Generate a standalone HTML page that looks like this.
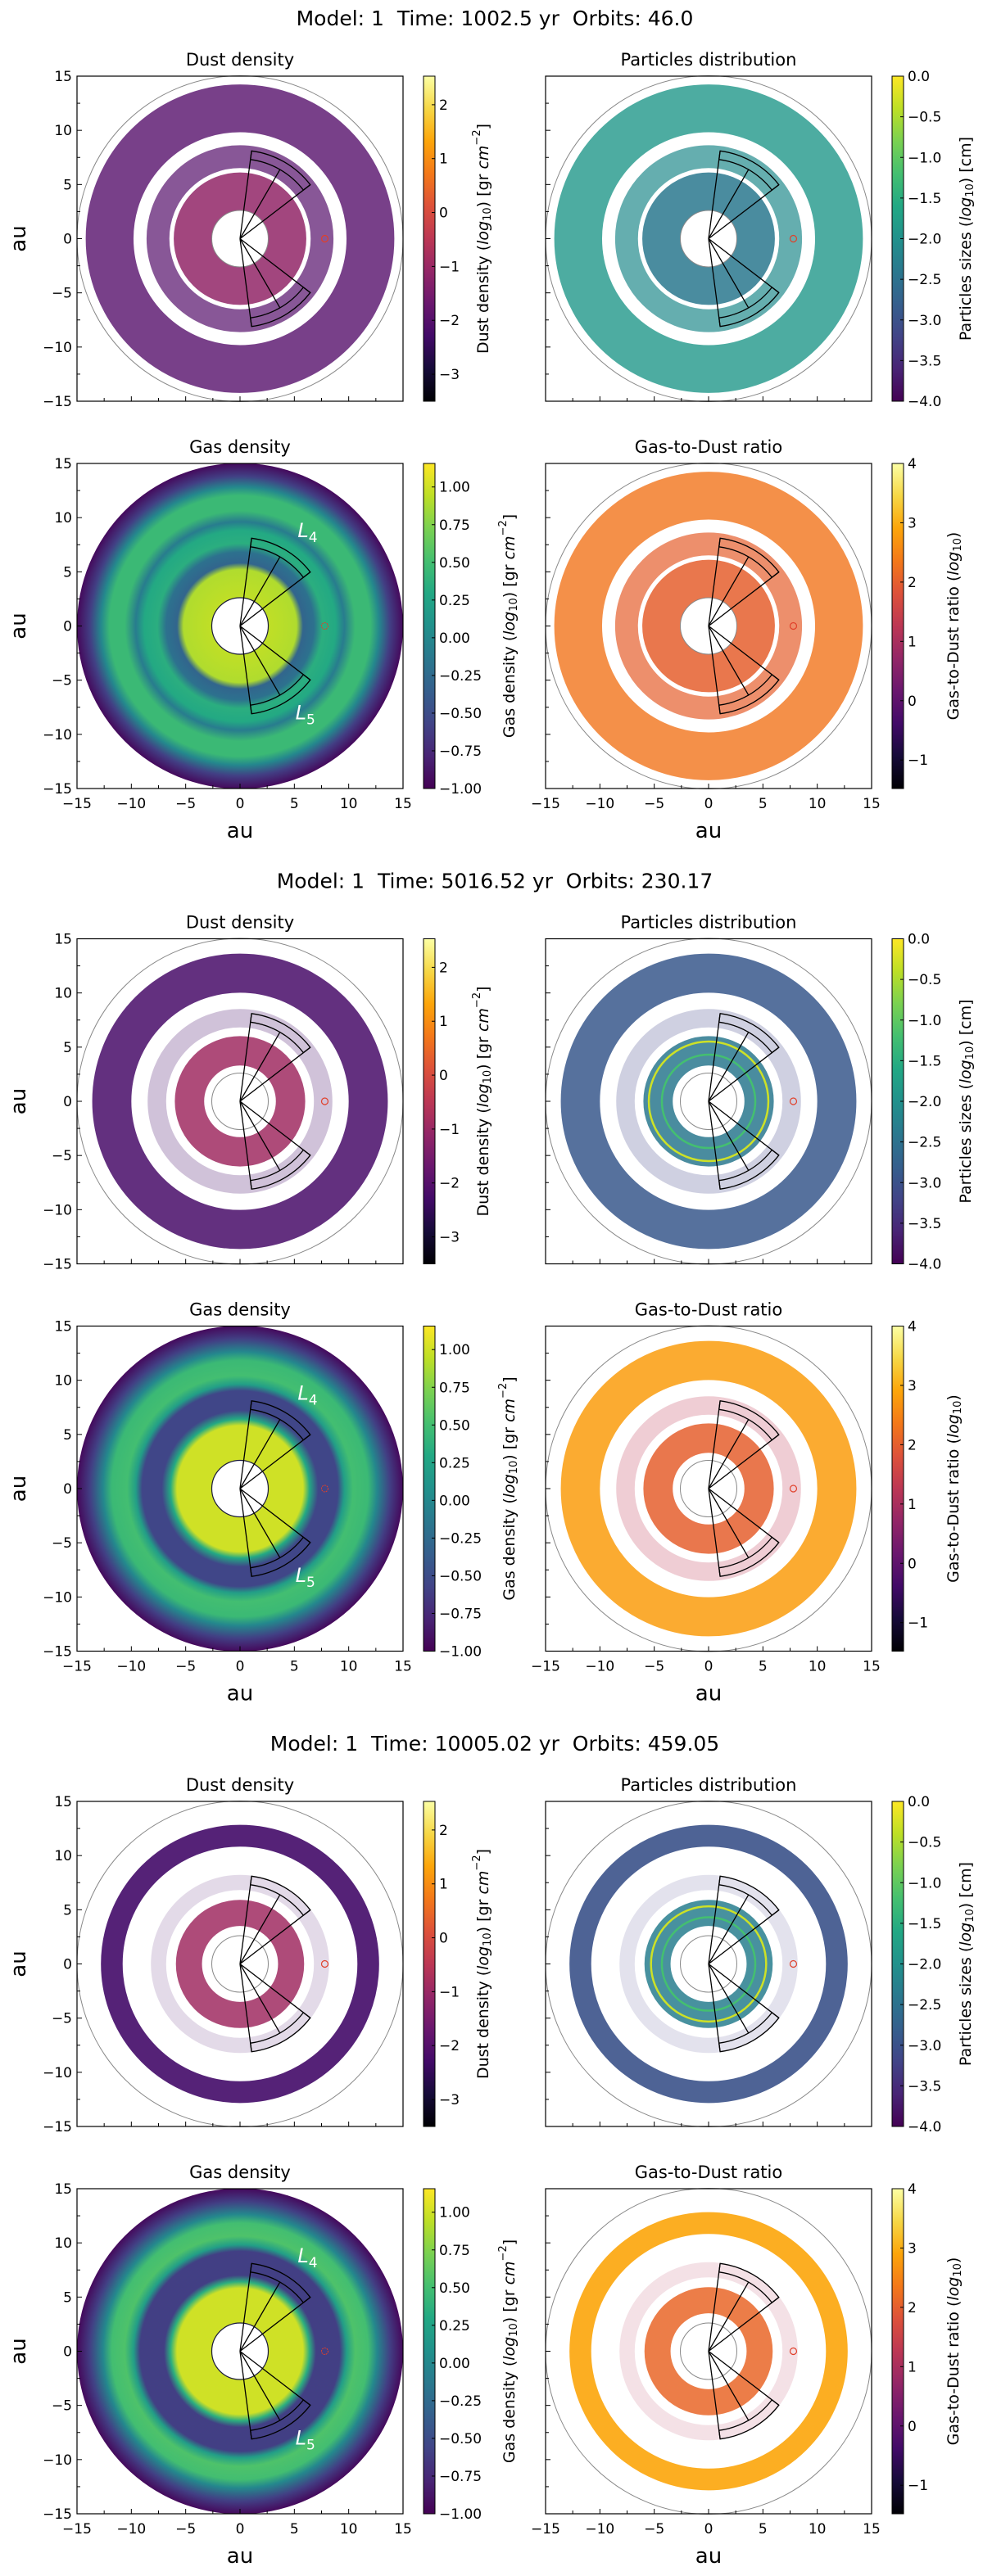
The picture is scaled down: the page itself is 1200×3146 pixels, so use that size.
<!DOCTYPE html>
<html><head><meta charset="utf-8"><title>Dust and gas disk evolution</title>
<style>
html,body{margin:0;padding:0;background:#fff;}
svg{display:block;font-family:"DejaVu Sans","Liberation Sans",sans-serif;}
</style></head>
<body>
<svg id="fig" width="1200" height="3146" viewBox="0 0 1200 3146" xmlns="http://www.w3.org/2000/svg"><defs id="defs"></defs></svg>
<script>
// ---------- data ----------
const blockTitles = ['Model: 1  Time: 1002.5 yr  Orbits: 46.0', 'Model: 1  Time: 5016.52 yr  Orbits: 230.17', 'Model: 1  Time: 10005.02 yr  Orbits: 459.05'];
// particle rings (inner, middle, outer) in au
const ringInner = [[2.6, 6.5, 9.8], [3.3, 6.8, 10.0], [3.5, 6.8, 10.8]];
const ringOuter = [[6.1, 8.6, 14.2], [6.0, 8.5, 13.6], [5.9, 8.2, 12.8]];
const ringFill = [[0.85, 0.7, 0.8], [0.85, 0.25, 0.85], [0.85, 0.15, 0.9]];
const dustVal = [[-1.1, -2.0, -2.0], [-0.9, -2.3, -2.2], [-0.9, -2.3, -2.3]];
const partVal = [[-2.4, -2.1, -1.9], [-2.4, -3.2, -2.9], [-2.3, -3.3, -3.0]];
const gtdVal = [[2.0, 2.0, 2.3], [2.0, 1.3, 2.8], [2.1, 1.2, 2.9]];
const partLineR = [[], [5.5, 4.3], [5.3, 4.3]];
const partLineVal = [[], [-0.3, -1.2], [-0.3, -1.2]];
// gas density radial profile
const gasR = [[2.6, 5.2, 5.8, 6.8, 7.6, 8.8, 9.6, 10.6, 12.0, 12.8, 13.8, 15],
              [2.6, 5.8, 6.4, 7.2, 9.0, 9.6, 10.4, 11.8, 12.6, 13.8, 15],
              [2.6, 5.8, 6.4, 7.0, 9.2, 9.8, 10.6, 11.8, 12.6, 13.8, 15]];
const gasV = [[0.95, 0.9, -0.3, -0.2, 0.35, 0.3, -0.1, 0.45, 0.45, 0.0, -0.6, -0.95],
              [1.0, 1.0, 0.3, -0.55, -0.55, 0.2, 0.5, 0.45, 0.0, -0.6, -0.95],
              [1.0, 1.0, 0.35, -0.6, -0.6, 0.2, 0.55, 0.5, 0.0, -0.6, -0.95]];
const holeR = 2.6;
const planetX = 7.8;
const axisTicks = [-15, -10, -5, 0, 5, 10, 15];
const axisTickLabels = ['−15', '−10', '−5', '0', '5', '10', '15'];
const cbDustTicks = [2, 1, 0, -1, -2, -3];
const cbDustLabels = ['2', '1', '0', '−1', '−2', '−3'];
const cbDustRange = [-3.5, 2.53];
const cbPartTicks = [0, -0.5, -1, -1.5, -2, -2.5, -3, -3.5, -4];
const cbPartLabels = ['0.0', '−0.5', '−1.0', '−1.5', '−2.0', '−2.5', '−3.0', '−3.5', '−4.0'];
const cbPartRange = [-4, 0];
const cbGasTicks = [1, 0.75, 0.5, 0.25, 0, -0.25, -0.5, -0.75, -1];
const cbGasLabels = ['1.00', '0.75', '0.50', '0.25', '0.00', '−0.25', '−0.50', '−0.75', '−1.00'];
const cbGasRange = [-1, 1.156];
const cbGtdTicks = [4, 3, 2, 1, 0, -1];
const cbGtdLabels = ['4', '3', '2', '1', '0', '−1'];
const cbGtdRange = [-1.48, 4];

// ---------- colormaps ----------
const inferno = ['#000004','#160b39','#420a68','#6a176e','#932667','#bc3754','#dd513a','#f37819','#fca50a','#f6d746','#fcffa4'];
const viridis = ['#440154','#482475','#414487','#355f8d','#2a788e','#21918c','#22a884','#44bf70','#7ad151','#bddf26','#fde725'];
function hex2rgb(h){return [parseInt(h.substr(1,2),16),parseInt(h.substr(3,2),16),parseInt(h.substr(5,2),16)];}
function cmap(stops, t){
  t = Math.max(0, Math.min(1, t));
  const p = t * (stops.length - 1), i = Math.min(Math.floor(p), stops.length - 2), f = p - i;
  const a = hex2rgb(stops[i]), b = hex2rgb(stops[i+1]);
  return 'rgb(' + a.map((v,k)=>Math.round(v + (b[k]-v)*f)).join(',') + ')';
}
function colorOf(stops, range, v){ return cmap(stops, (v - range[0]) / (range[1] - range[0])); }

// ---------- helpers ----------
const NS = 'http://www.w3.org/2000/svg';
const svg = document.getElementById('fig');
const defs = document.getElementById('defs');
function mk(tag, attrs, parent){
  const e = document.createElementNS(NS, tag);
  for (const k in attrs) e.setAttribute(k, attrs[k]);
  (parent || svg).appendChild(e);
  return e;
}
let gid = 0;

function makeAxes(g, box){
  return {
    x: v => box.x + (v + 15) / 30 * box.w,
    y: v => box.y + (15 - v) / 30 * box.h,
    r: v => v / 30 * box.w
  };
}

function drawFrame(g, box, showXLabels, showYLabels){
  const ax = makeAxes(g, box);
  const frame = mk('rect', {x: box.x, y: box.y, width: box.w, height: box.h, fill: 'none', stroke: '#000', 'stroke-width': 1.2}, g);
  
  
  for (let v = -15; v <= 15; v += 2.5) {
    const major = (v % 5 === 0);
    const L = major ? 6 : 4;
    const tx = mk('line', {x1: ax.x(v), x2: ax.x(v), y1: box.y + box.h, y2: box.y + box.h - L, stroke: '#000', 'stroke-width': 1}, g);
    
    
    const ty = mk('line', {x1: box.x, x2: box.x + L, y1: ax.y(v), y2: ax.y(v), stroke: '#000', 'stroke-width': 1}, g);
    
    
  }
  axisTicks.forEach((v, i) => {
    if (showXLabels) {
      const t = mk('text', {x: ax.x(v), y: box.y + box.h + 24, 'text-anchor': 'middle', 'font-size': 17, fill: '#000'}, g);
      t.textContent = axisTickLabels[i];
      
      
    }
    if (showYLabels) {
      const t = mk('text', {x: box.x - 6, y: ax.y(v) + 6, 'text-anchor': 'end', 'font-size': 17, fill: '#000'}, g);
      t.textContent = axisTickLabels[i];
      
      
    }
  });
  if (showXLabels) {
    const t = mk('text', {x: box.x + box.w / 2, y: box.y + box.h + 60, 'text-anchor': 'middle', 'font-size': 26, fill: '#000'}, g);
    t.textContent = 'au';
    
    
  }
  if (showYLabels) {
    const cy = box.y + box.h / 2;
    const t = mk('text', {x: 23, y: cy, 'text-anchor': 'middle', 'dominant-baseline': 'central', 'font-size': 26, fill: '#000', transform: 'rotate(-90 23 ' + cy + ')'}, g);
    t.textContent = 'au';
    
    
  }
}

function drawSectors(g, box, color, labels){
  const ax = makeAxes(g, box);
  const cx = ax.x(0), cy = ax.y(0);
  const r1 = ax.r(7.35), r2 = ax.r(8.15);
  const pt = (r, a) => [cx + r * Math.cos(a * Math.PI / 180), cy - r * Math.sin(a * Math.PI / 180)];
  [[37.5, 82.5, 60], [-82.5, -37.5, -60]].forEach((s, si) => {
    const a0 = s[0], a1 = s[1];
    const p1 = pt(r2, a1), p2 = pt(r2, a0), p3 = pt(r1, a0), p4 = pt(r1, a1);
    const d = 'M' + p1 + ' A' + r2 + ',' + r2 + ' 0 0 1 ' + p2 + ' L' + p3 + ' A' + r1 + ',' + r1 + ' 0 0 0 ' + p4 + ' Z';
    const sec = mk('path', {d: d, fill: 'none', stroke: color, 'stroke-width': 1.3}, g);
    
    
    [a0, a1].forEach(a => {
      const e = pt(r2, a);
      const ln = mk('line', {x1: cx, y1: cy, x2: e[0], y2: e[1], stroke: color, 'stroke-width': 1.3}, g);
      
      
    });
    const m = pt(r1, s[2]);
    const lm = mk('line', {x1: cx, y1: cy, x2: m[0], y2: m[1], stroke: color, 'stroke-width': 1.3}, g);
    
    
  });
  if (labels) {
    [['4', 5.3, 8.2], ['5', 5.1, -8.6]].forEach(L => {
      const t = mk('text', {x: ax.x(L[1]), y: ax.y(L[2]), 'font-size': 24, fill: '#fff', 'font-style': 'italic'}, g);
      t.innerHTML = 'L<tspan font-size="17" font-style="normal" dy="6">' + L[0] + '</tspan>';
      
      
    });
  }
}

function drawPlanet(g, box){
  const ax = makeAxes(g, box);
  const p = mk('circle', {cx: ax.x(planetX), cy: ax.y(0), r: ax.r(0.3), fill: 'none', stroke: '#e0402a', 'stroke-width': 1.2}, g);
  
  
}

function drawScatterPanel(g, box, b, vals, stops, range, kind){
  const ax = makeAxes(g, box);
  const cx = ax.x(0), cy = ax.y(0);
  const oc = mk('circle', {cx: cx, cy: cy, r: ax.r(15), fill: 'none', stroke: '#888', 'stroke-width': 1}, g);
  
  
  for (let i = 0; i < 3; i++) {
    const rin = ringInner[b][i], rout = ringOuter[b][i];
    const ring = mk('circle', {cx: cx, cy: cy, r: ax.r((rin + rout) / 2), fill: 'none', stroke: colorOf(stops, range, vals[b][i]), 'stroke-width': ax.r(rout - rin), 'stroke-opacity': ringFill[b][i]}, g);
    
    
  }
  if (kind === 'particles') {
    partLineR[b].forEach((r, i) => {
      const ln = mk('circle', {cx: cx, cy: cy, r: ax.r(r), fill: 'none', stroke: colorOf(stops, range, partLineVal[b][i]), 'stroke-width': 2.5}, g);
      
      
    });
  }
  const hc = mk('circle', {cx: cx, cy: cy, r: ax.r(holeR), fill: '#fff', stroke: '#888', 'stroke-width': 1}, g);
  
  
  drawSectors(g, box, '#000', false);
  drawPlanet(g, box);
}

function drawGasPanel(g, box, b){
  const ax = makeAxes(g, box);
  const cx = ax.x(0), cy = ax.y(0);
  const id = 'gasgrad' + (gid++);
  const grad = mk('radialGradient', {id: id, cx: '50%', cy: '50%', r: '50%'}, defs);
  gasR[b].forEach((r, i) => {
    mk('stop', {offset: (r / 15).toFixed(4), 'stop-color': colorOf(viridis, cbGasRange, gasV[b][i])}, grad);
  });
  const disk = mk('circle', {cx: cx, cy: cy, r: ax.r(15), fill: 'url(#' + id + ')'}, g);
  
  
  const hc = mk('circle', {cx: cx, cy: cy, r: ax.r(holeR), fill: '#fff', stroke: '#1a1a3a', 'stroke-width': 1.2}, g);
  
  
  drawSectors(g, box, '#000', true);
  const p = mk('circle', {cx: ax.x(planetX), cy: ax.y(0), r: ax.r(0.3), fill: 'none', stroke: '#e0402a', 'stroke-width': 1, 'stroke-dasharray': '2,1'}, g);
  
  
}

function drawColorbar(g, box, cbx, stops, range, ticks, labels, labelHTML, labelX){
  const id = 'cbgrad' + (gid++);
  const grad = mk('linearGradient', {id: id, x1: 0, y1: 1, x2: 0, y2: 0}, defs);
  stops.forEach((c, i) => mk('stop', {offset: i / (stops.length - 1), 'stop-color': c}, grad));
  const r = mk('rect', {x: cbx, y: box.y, width: 14, height: box.h, fill: 'url(#' + id + ')', stroke: '#000', 'stroke-width': 1}, g);
  
  
  const yOf = v => box.y + box.h - (v - range[0]) / (range[1] - range[0]) * box.h;
  ticks.forEach((v, i) => {
    const y = yOf(v);
    const tk = mk('line', {x1: cbx + 14, x2: cbx + 10, y1: y, y2: y, stroke: '#000', 'stroke-width': 1}, g);
    
    
    const t = mk('text', {x: cbx + 19, y: y + 6, 'font-size': 17, fill: '#000'}, g);
    t.textContent = labels[i];
    
    
  });
  const cy = box.y + box.h / 2;
  const lt = mk('text', {x: labelX, y: cy, 'text-anchor': 'middle', 'dominant-baseline': 'central', 'font-size': 19, fill: '#000', transform: 'rotate(-90 ' + labelX + ' ' + cy + ')'}, g);
  lt.innerHTML = labelHTML;
  
  
}

const LOG = '(<tspan font-style="italic">log</tspan><tspan font-size="13" dy="5">10</tspan><tspan dy="-5">)</tspan>';
const dustLbl = 'Dust density ' + LOG + ' [gr <tspan font-style="italic">cm</tspan><tspan font-size="13" dy="-8">−2</tspan><tspan dy="8">]</tspan>';
const partLbl = 'Particles sizes ' + LOG + ' [cm]';
const gasLbl = 'Gas density ' + LOG + ' [gr <tspan font-style="italic">cm</tspan><tspan font-size="13" dy="-8">−2</tspan><tspan dy="8">]</tspan>';
const gtdLbl = 'Gas-to-Dust ratio ' + LOG;

function subtitle(g, box, text){
  const t = mk('text', {x: box.x + box.w / 2, y: box.y - 13, 'text-anchor': 'middle', 'font-size': 21, fill: '#000'}, g);
  t.textContent = text;
  
  
}

blockTitles.forEach((title, b) => {
  const oy = 21 + 1053.5 * b;
  const g = mk('g', {});
  
  
  const tt = mk('text', {x: 604, y: oy + 10, 'text-anchor': 'middle', 'font-size': 25, fill: '#000', 'xml:space': 'preserve', style: 'white-space:pre'}, g);
  tt.textContent = title;
  
  
  const boxTL = {x: 94, y: oy + 72, w: 398, h: 397};
  const boxTR = {x: 666, y: oy + 72, w: 398, h: 397};
  const boxBL = {x: 94, y: oy + 545, w: 398, h: 397};
  const boxBR = {x: 666, y: oy + 545, w: 398, h: 397};

  const p1 = mk('g', {}, g);
  
  
  subtitle(p1, boxTL, 'Dust density');
  drawScatterPanel(p1, boxTL, b, dustVal, inferno, cbDustRange, 'dust');
  drawFrame(p1, boxTL, false, true);
  drawColorbar(p1, boxTL, 517, inferno, cbDustRange, cbDustTicks, cbDustLabels, dustLbl, 590);

  const p2 = mk('g', {}, g);
  
  
  subtitle(p2, boxTR, 'Particles distribution');
  drawScatterPanel(p2, boxTR, b, partVal, viridis, cbPartRange, 'particles');
  drawFrame(p2, boxTR, false, false);
  drawColorbar(p2, boxTR, 1089, viridis, cbPartRange, cbPartTicks, cbPartLabels, partLbl, 1179);

  const p3 = mk('g', {}, g);
  
  
  subtitle(p3, boxBL, 'Gas density');
  drawGasPanel(p3, boxBL, b);
  drawFrame(p3, boxBL, true, true);
  drawColorbar(p3, boxBL, 517, viridis, cbGasRange, cbGasTicks, cbGasLabels, gasLbl, 622);

  const p4 = mk('g', {}, g);
  
  
  subtitle(p4, boxBR, 'Gas-to-Dust ratio');
  drawScatterPanel(p4, boxBR, b, gtdVal, inferno, cbGtdRange, 'gtd');
  drawFrame(p4, boxBR, true, false);
  drawColorbar(p4, boxBR, 1089, inferno, cbGtdRange, cbGtdTicks, cbGtdLabels, gtdLbl, 1164);
});
</script>
</body></html>
